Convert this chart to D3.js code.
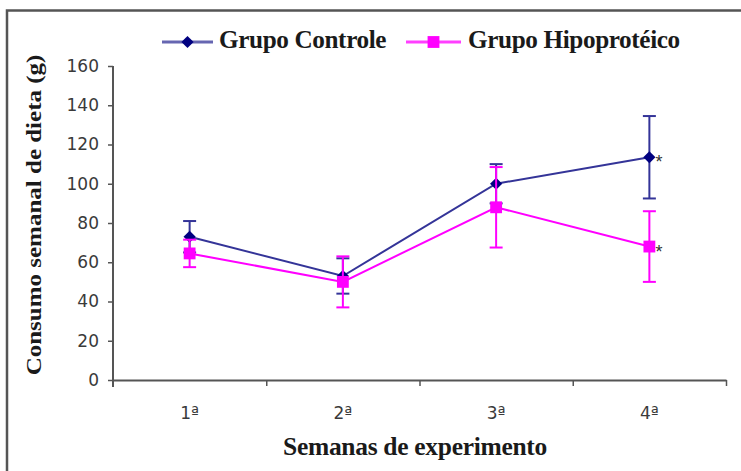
<!DOCTYPE html>
<html>
<head>
<meta charset="utf-8">
<script src="https://cdn.jsdelivr.net/npm/d3@7"></script>
<style>
  html, body { margin: 0; padding: 0; background: #fff; }
  svg { display: block; }
</style>
</head>
<body>
<svg id="chart" width="741" height="471"></svg>
<script>
// ---- data ----
const weeks = ["1ª", "2ª", "3ª", "4ª"];
const yTicks = [0, 20, 40, 60, 80, 100, 120, 140, 160];
const controleMean = [73, 53, 100, 113.5];
const controleSD = [8, 9, 10, 21];
const hipoMean = [64.5, 50, 88, 68];
const hipoSD = [7, 13, 20.5, 18];
const significant = [false, false, false, true];
const seriesNames = ["Grupo Controle", "Grupo Hipoprotéico"];

const svg = d3.select("#chart");
const serif = "'Liberation Serif', 'Times New Roman', serif";
const sans = "'DejaVu Sans', Verdana, sans-serif";

// frame
svg.append("rect").attr("x", 7).attr("y", 10.5).attr("width", 760).attr("height", 490)
  .attr("fill", "none").attr("stroke", "#555").attr("stroke-width", 2.5);

const x = d3.scaleBand().domain(weeks).range([113, 726]).padding(0);
const xEdge = d3.scaleLinear().domain([0, weeks.length]).range([113, 726]);
const y = d3.scaleLinear().domain([0, 160]).range([380, 66]);
const cx = d => x(d) + x.bandwidth() / 2;

// y axis
const yAxis = svg.append("g").attr("transform", "translate(113,0)")
  .call(d3.axisLeft(y).tickValues(yTicks).tickSize(5).tickSizeOuter(0).tickPadding(9));
yAxis.select(".domain").attr("stroke", "#555").attr("stroke-width", 2)
  .attr("d", "M0,66V387");
yAxis.selectAll(".tick line").attr("stroke", "#555").attr("stroke-width", 1.5);
yAxis.selectAll(".tick text").attr("font-family", sans).attr("font-size", 17)
  .attr("fill", "#3a3a3a");

// x axis: edge ticks
const xAxis = svg.append("g").attr("transform", "translate(0,380)")
  .call(d3.axisBottom(xEdge).tickValues(d3.range(weeks.length + 1)).tickSize(6).tickSizeOuter(0).tickFormat(""));
xAxis.select(".domain").attr("stroke", "#555").attr("stroke-width", 2);
xAxis.selectAll(".tick line").attr("stroke", "#555").attr("stroke-width", 1.5);
xAxis.selectAll(".tick").filter(d => d === 0).remove();

// x labels
const xLab = svg.append("g").attr("transform", "translate(0,380)")
  .call(d3.axisBottom(x).tickSize(0));
xLab.select(".domain").remove();
xLab.selectAll(".tick text").attr("font-family", sans).attr("font-size", 17)
  .attr("fill", "#3a3a3a").attr("dy", null).attr("y", 39);

// series
const series = [
  { mean: controleMean, sd: controleSD, line: "#343498", marker: "#000080", shape: "diamond" },
  { mean: hipoMean, sd: hipoSD, line: "#ff00ff", marker: "#ff00ff", shape: "square" }
];

const lineGen = d3.line().x((d, i) => cx(weeks[i])).y(d => y(d));
const symFor = shape => shape === "diamond"
  ? d3.symbol().type(d3.symbolDiamond2).size(95)
  : d3.symbol().type(d3.symbolSquare).size(140);

series.forEach(s => {
  svg.append("path").datum(s.mean).attr("d", lineGen)
    .attr("fill", "none").attr("stroke", s.line).attr("stroke-width", 2);
  const eb = svg.append("g");
  s.mean.forEach((m, i) => {
    const px = cx(weeks[i]);
    const top = y(m + s.sd[i]), bot = y(m - s.sd[i]);
    eb.append("line").attr("x1", px).attr("x2", px).attr("y1", top).attr("y2", bot)
      .attr("stroke", s.line).attr("stroke-width", 2);
    [top, bot].forEach(v => eb.append("line").attr("x1", px - 6.5).attr("x2", px + 6.5)
      .attr("y1", v).attr("y2", v).attr("stroke", s.line).attr("stroke-width", 2));
  });
  svg.append("g").selectAll("path").data(s.mean).join("path")
    .attr("transform", (d, i) => `translate(${cx(weeks[i])},${y(d)})`)
    .attr("d", symFor(s.shape)).attr("fill", s.marker);
  // significance asterisks
  s.mean.forEach((m, i) => {
    if (significant[i]) {
      svg.append("text").attr("x", cx(weeks[i]) + 6).attr("y", y(m) + 11)
        .attr("font-family", "'Liberation Sans', Arial, sans-serif").attr("font-size", 18)
        .attr("fill", "#333").text("*");
    }
  });
});

// legend
const legY = 42;
const leg = [
  { x1: 162, x2: 213, tx: 219, s: series[0] },
  { x1: 406, x2: 461, tx: 468, s: series[1] }
];
leg.forEach((l, i) => {
  svg.append("line").attr("x1", l.x1).attr("x2", l.x2).attr("y1", legY).attr("y2", legY)
    .attr("stroke", l.s.line).attr("stroke-width", 3).attr("opacity", 0.75);
  svg.append("path").attr("transform", `translate(${(l.x1 + l.x2) / 2},${legY})`)
    .attr("d", symFor(l.s.shape)).attr("fill", l.s.marker);
  svg.append("text").attr("transform", `translate(${l.tx},48) scale(0.97,1)`)
    .attr("font-family", serif).attr("font-weight", "bold").attr("font-size", 26)
    .attr("fill", "#1a1a1a").attr("letter-spacing", -0.4).text(seriesNames[i]);
});

// axis titles
svg.append("text").attr("transform", "translate(415,455) scale(0.98,1)").attr("text-anchor", "middle")
  .attr("font-family", serif).attr("font-weight", "bold").attr("font-size", 26)
  .attr("fill", "#1a1a1a").attr("letter-spacing", -0.3).text("Semanas de experimento");

svg.append("text")
  .attr("transform", "translate(41,215) scale(0.8,1) rotate(-90)")
  .attr("text-anchor", "middle")
  .attr("font-family", serif).attr("font-weight", "bold").attr("font-size", 25)
  .attr("fill", "#1a1a1a").text("Consumo semanal de dieta (g)");
</script>
</body>
</html>
